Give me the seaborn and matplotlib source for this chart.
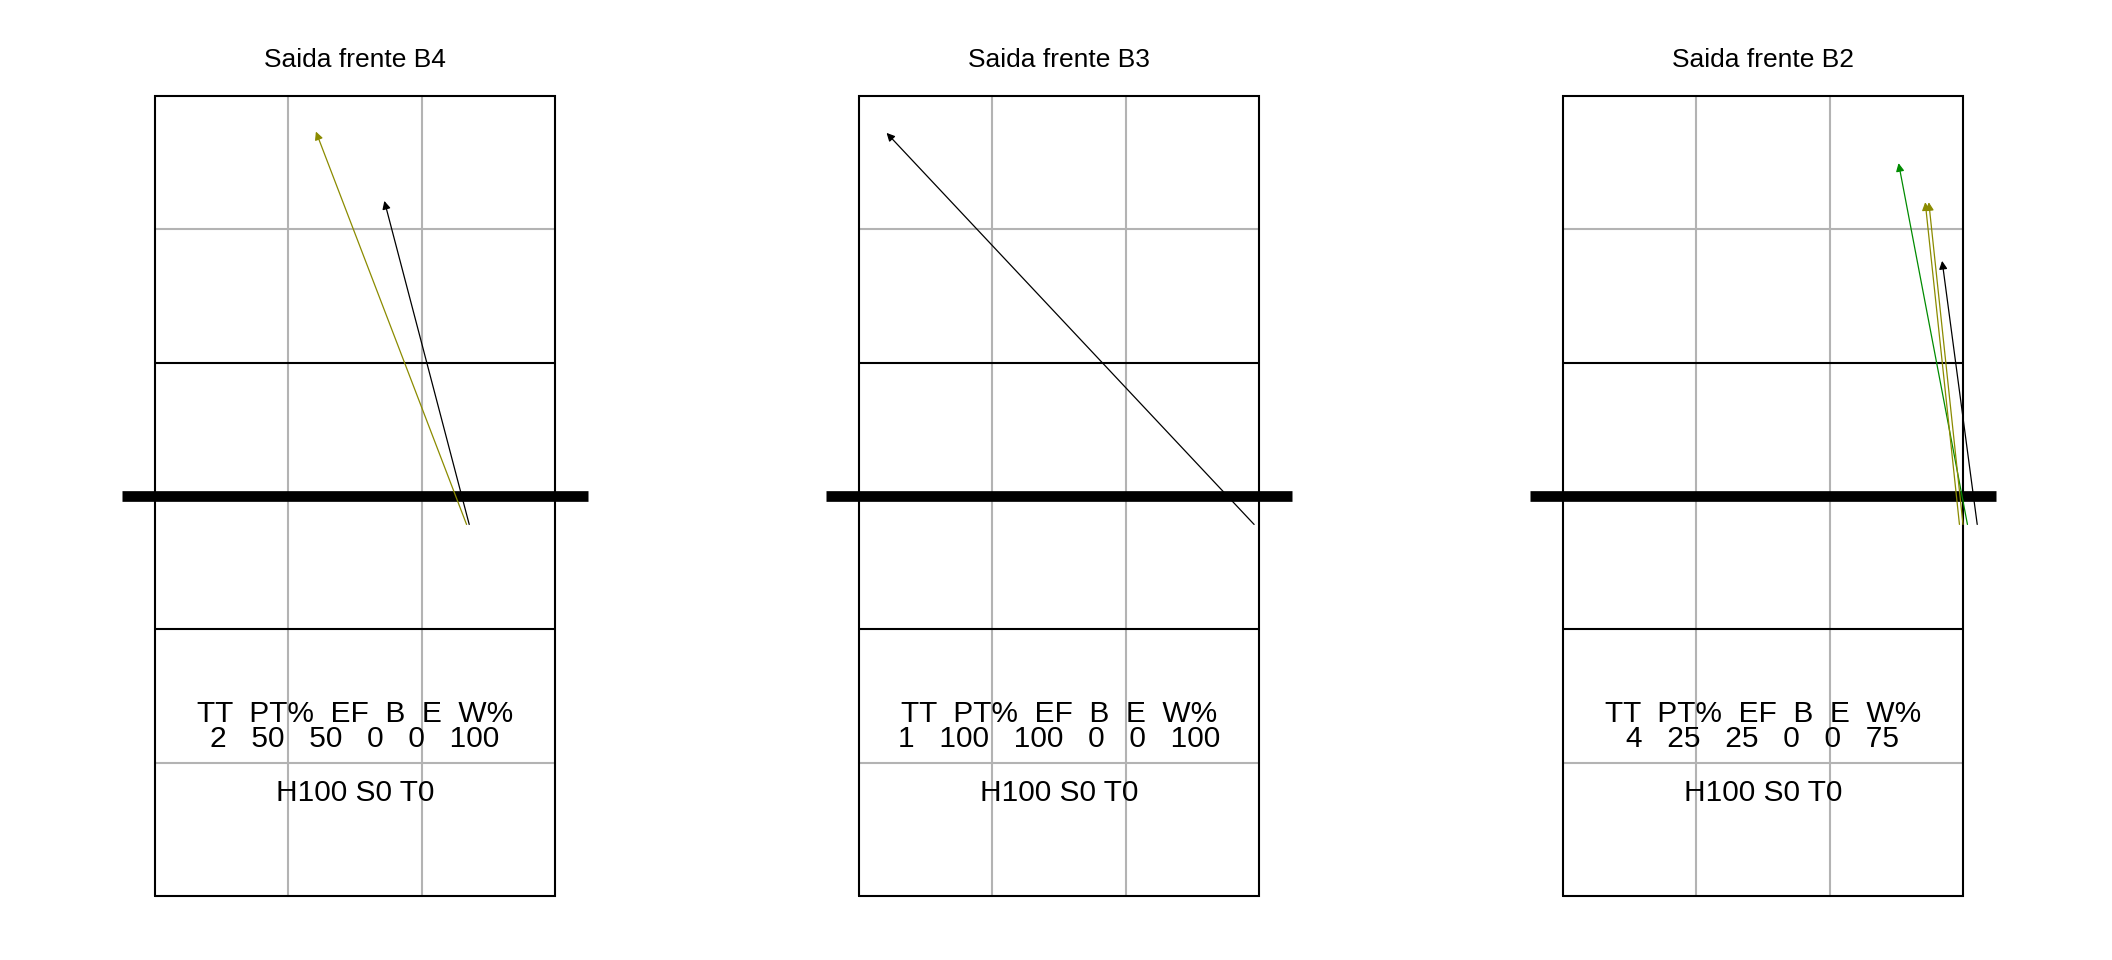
import pandas as pd
import matplotlib
matplotlib.use('Agg')
import matplotlib.pyplot as plt
import seaborn as sns

sns.set_style('white')
plt.rcParams['font.family'] = ['Liberation Sans', 'DejaVu Sans']
plt.rcParams['text.color'] = 'black'
plt.rcParams['axes.titlecolor'] = 'black'

# ---------------------------------------------------------
# Data (court in metres, 9 x 18, net at 9)
# ---------------------------------------------------------
TITLES = ['Saida frente B4', 'Saida frente B3', 'Saida frente B2']

ARROW_PANEL = [0, 0, 1, 2, 2, 2, 2]
ARROW_X0 = [7.01, 7.07, 8.89, 9.10, 8.92, 9.00, 9.32]
ARROW_Y0 = [8.36, 8.36, 8.36, 8.36, 8.36, 8.36, 8.36]
ARROW_X1 = [3.62, 5.16, 0.62, 7.55, 8.15, 8.23, 8.53]
ARROW_Y1 = [17.20, 15.64, 17.17, 16.49, 15.61, 15.61, 14.29]
ARROW_COLOR = ['#8B8B00', 'black', 'black', '#008B00', '#8B8B00', '#8B8B00', 'black']

TT = [2, 1, 4]
PT = [50, 100, 25]
EF = [50, 100, 25]
B = [0, 0, 0]
E = [0, 0, 0]
W = [100, 100, 75]
H = [100, 100, 100]
S = [0, 0, 0]
T = [0, 0, 0]

HEADER = 'TT  PT%  EF  B  E  W%'

arrows = pd.DataFrame({'panel': ARROW_PANEL, 'x0': ARROW_X0, 'y0': ARROW_Y0,
                       'x1': ARROW_X1, 'y1': ARROW_Y1, 'color': ARROW_COLOR})

W_PX, H_PX = 2112, 960
fig = plt.figure(figsize=(W_PX / 100, H_PX / 100), dpi=100)

PX_PER_M = 400 / 9
XLIM = (-1, 10)
YLIM = (-0.5, 18.5)


def draw_court(ax):
    # gray grid
    for x in (3, 6):
        ax.plot([x, x], [0, 18], color='#B3B3B3', lw=1.5, zorder=1)
    for y in (3, 15):
        ax.plot([0, 9], [y, y], color='#B3B3B3', lw=1.5, zorder=1)
    # court outline and attack lines
    ax.plot([0, 9, 9, 0, 0], [0, 0, 18, 18, 0], color='black', lw=1.5, zorder=2,
            solid_joinstyle='miter')
    for y in (6, 12):
        ax.plot([0, 9], [y, y], color='black', lw=1.5, zorder=2)
    # net
    ax.plot([-0.75, 9.75], [9, 9], color='black', lw=7.7, solid_capstyle='butt', zorder=3)


for i, title in enumerate(TITLES):
    court_left = 155 + 704 * i
    left = (court_left + XLIM[0] * PX_PER_M) / W_PX
    width = (XLIM[1] - XLIM[0]) * PX_PER_M / W_PX
    bottom = (H_PX - 896 - (0 - YLIM[0]) * PX_PER_M) / H_PX
    height = (YLIM[1] - YLIM[0]) * PX_PER_M / H_PX
    ax = fig.add_axes([left, bottom, width, height])
    ax.set_xlim(*XLIM)
    ax.set_ylim(*YLIM)
    ax.axis('off')

    draw_court(ax)

    for _, a in arrows[arrows['panel'] == i].iterrows():
        ax.annotate('', xy=(a['x1'], a['y1']), xytext=(a['x0'], a['y0']),
                    arrowprops=dict(arrowstyle='-|>,head_length=0.4,head_width=0.2',
                                    color=a['color'], lw=0.9, mutation_scale=12,
                                    shrinkA=0, shrinkB=0),
                    zorder=4)

    values = f'{TT[i]}   {PT[i]}   {EF[i]}   {B[i]}   {E[i]}   {W[i]}'
    ax.text(4.5, 3.92, HEADER, ha='center', va='baseline', fontsize=21.5)
    ax.text(4.5, 3.36, values, ha='center', va='baseline', fontsize=21.5)
    ax.text(4.5, 2.14, f'H{H[i]} S{S[i]} T{T[i]}', ha='center', va='baseline', fontsize=21.5)

    ax.set_title(title, fontsize=19, pad=5)

fig.savefig('out.png', dpi=100, facecolor='white')
